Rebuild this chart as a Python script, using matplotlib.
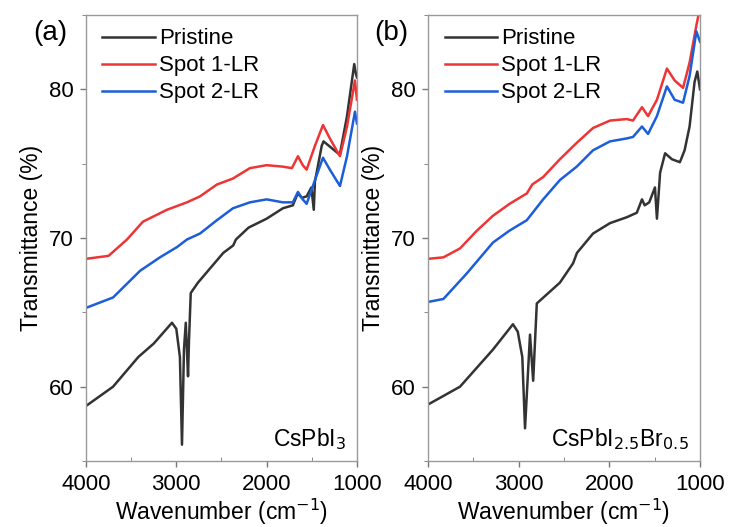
import numpy as np
from matplotlib import pyplot as plt
from matplotlib.ticker import MultipleLocator

plt.rcParams['font.family'] = ['Liberation Sans', 'DejaVu Sans']

# panel (a) CsPbI3
a_pri_x = [4000, 3700, 3420, 3250, 3048, 3000, 2960, 2937, 2915, 2895, 2870, 2860, 2840,
           2760, 2620, 2480, 2370, 2340, 2200, 2000, 1820, 1710, 1655, 1610, 1557, 1505,
           1478, 1465, 1390, 1370, 1290, 1190, 1110, 1030, 1010, 1000]
a_pri_y = [58.7, 60.0, 62.0, 62.9, 64.3, 63.9, 62.0, 56.1, 62.5, 64.3, 60.7, 63.0, 66.3,
           67.0, 68.0, 69.0, 69.5, 69.9, 70.7, 71.3, 72.0, 72.2, 73.0, 72.7, 72.8, 73.4,
           71.9, 73.8, 76.2, 76.5, 76.1, 75.6, 78.2, 81.7, 81.0, 80.8]

a_sp1_x = [4000, 3750, 3546, 3369, 3103, 2882, 2738, 2550, 2373, 2185, 2000, 1820, 1720,
           1653, 1600, 1557, 1465, 1376, 1300, 1188, 1110, 1022, 1000]
a_sp1_y = [68.6, 68.8, 69.9, 71.1, 71.9, 72.4, 72.8, 73.6, 74.0, 74.7, 74.9, 74.8, 74.7,
           75.5, 74.9, 74.6, 76.2, 77.6, 76.7, 75.5, 77.5, 80.6, 79.3]

a_sp2_x = [4000, 3700, 3400, 3181, 2990, 2882, 2738, 2550, 2373, 2185, 2000, 1820, 1710,
           1653, 1600, 1557, 1465, 1376, 1300, 1188, 1110, 1022, 1000]
a_sp2_y = [65.3, 66.0, 67.8, 68.7, 69.4, 69.9, 70.3, 71.2, 72.0, 72.4, 72.6, 72.4, 72.4,
           73.1, 72.6, 72.3, 73.9, 75.4, 74.6, 73.5, 75.5, 78.5, 77.7]

# panel (b) CsPbI2.5Br0.5
b_pri_x = [4000, 3647, 3283, 3063, 3010, 2960, 2930, 2875, 2840, 2800, 2545, 2400, 2357,
           2180, 1993, 1807, 1697, 1640, 1610, 1560, 1497, 1475, 1440, 1385, 1310, 1222,
           1170, 1115, 1060, 1030, 1000]
b_pri_y = [58.8, 60.0, 62.5, 64.2, 63.7, 62.0, 57.2, 63.5, 60.4, 65.6, 67.0, 68.3, 69.0,
           70.3, 71.0, 71.4, 71.7, 72.6, 72.2, 72.4, 73.4, 71.3, 74.4, 75.7, 75.3, 75.1,
           75.9, 77.5, 80.5, 81.2, 80.0]

b_sp1_x = [4000, 3830, 3647, 3460, 3283, 3100, 2910, 2850, 2730, 2545, 2360, 2180, 1993,
           1807, 1739, 1640, 1573, 1475, 1365, 1280, 1187, 1115, 1040, 1000]
b_sp1_y = [68.6, 68.7, 69.3, 70.5, 71.5, 72.3, 73.0, 73.6, 74.1, 75.3, 76.4, 77.4, 77.9,
           78.0, 77.9, 78.8, 78.2, 79.3, 81.4, 80.6, 80.1, 81.8, 84.3, 85.5]

b_sp2_x = [4000, 3830, 3575, 3283, 3100, 2910, 2730, 2545, 2360, 2180, 1993, 1807, 1739,
           1640, 1573, 1475, 1365, 1280, 1187, 1115, 1040, 1000]
b_sp2_y = [65.7, 65.9, 67.6, 69.7, 70.5, 71.2, 72.6, 73.9, 74.8, 75.9, 76.5, 76.7, 76.8,
           77.5, 77.0, 78.2, 80.2, 79.3, 79.1, 80.9, 83.9, 83.2]

labels = ['Pristine', 'Spot 1-LR', 'Spot 2-LR']
colors = ['#333333', '#ee3535', '#1c5ed8']
y_ticks = [60, 70, 80]
x_ticks = [4000, 3000, 2000, 1000]

fig = plt.figure(figsize=(7.31, 5.27), dpi=100)
ax_a = fig.add_axes([0.1176, 0.1252, 0.3707, 0.8463])
ax_b = fig.add_axes([0.5855, 0.1252, 0.3721, 0.8463])

panels = [
    (ax_a, [(a_pri_x, a_pri_y), (a_sp1_x, a_sp1_y), (a_sp2_x, a_sp2_y)], '(a)', 'CsPbI$_3$'),
    (ax_b, [(b_pri_x, b_pri_y), (b_sp1_x, b_sp1_y), (b_sp2_x, b_sp2_y)], '(b)',
     'CsPbI$_{2.5}$Br$_{0.5}$'),
]

for ax, series, tag, sample in panels:
    for (xs, ys), lab, col in zip(series, labels, colors):
        ax.plot(xs, ys, color=col, lw=1.8, label=lab)
    ax.set_xlim(4000, 1000)
    ax.set_ylim(55, 85)
    ax.set_xticks(x_ticks)
    ax.set_yticks(y_ticks)
    ax.xaxis.set_minor_locator(MultipleLocator(500))
    ax.yaxis.set_minor_locator(MultipleLocator(5))
    ax.tick_params(axis='both', which='major', labelsize=16, length=4, width=1,
                   color='#777777', direction='out', pad=5)
    ax.tick_params(axis='x', which='minor', length=3, direction='in', color='#777777')
    ax.tick_params(axis='y', which='minor', length=3, direction='out', color='#777777')
    for sp in ax.spines.values():
        sp.set_color('#999999')
        sp.set_linewidth(1.0)
    ax.set_xlabel('Wavenumber (cm$^{-1}$)', fontsize=16.5, labelpad=2)
    ax.set_ylabel('Transmittance (%)', fontsize=16.5, labelpad=4)
    ax.legend(loc='upper left', frameon=False, fontsize=16, handlelength=2.35,
              handletextpad=0.2, labelspacing=0.27, borderaxespad=0.1,
              bbox_to_anchor=(0.02, 0.995))
    ax.text(0.96, 0.02, sample, transform=ax.transAxes, ha='right', va='bottom', fontsize=16.5)
    ax.text(-0.196, 0.96, tag, transform=ax.transAxes, ha='left', va='center', fontsize=20)

fig.savefig('out.png', dpi=100)
